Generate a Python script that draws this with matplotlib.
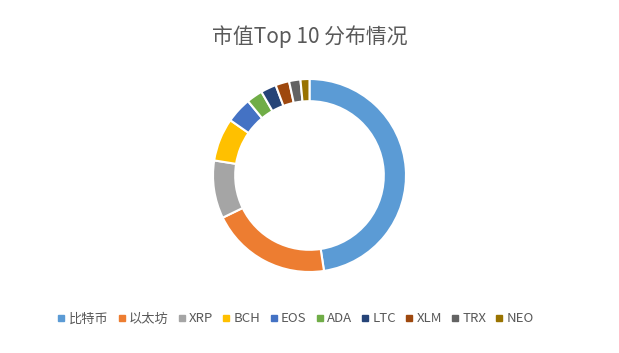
import matplotlib
matplotlib.use("Agg")
import matplotlib.pyplot as plt
from matplotlib.lines import Line2D

plt.rcParams['font.family'] = ['Noto Sans CJK SC', 'DejaVu Sans']

labels = ['比特币', '以太坊', 'XRP', 'BCH', 'EOS', 'ADA', 'LTC', 'XLM', 'TRX', 'NEO']
values = [47.6, 20.2, 9.7, 7.2, 4.3, 2.7, 2.6, 2.3, 1.9, 1.5]
colors = ['#5B9BD5', '#ED7D31', '#A5A5A5', '#FFC000', '#4472C4',
          '#70AD47', '#264478', '#9E480E', '#636363', '#997300']
title = '市值Top 10 分布情况'

W, H = 619, 353
fig = plt.figure(figsize=(W / 100, H / 100), dpi=100)
fig.patch.set_facecolor('white')

cx, cy, r = 309.5, 175.5, 96.5
ax = fig.add_axes([(cx - r) / W, (H - cy - r) / H, 2 * r / W, 2 * r / H])
ax.pie(values, colors=colors, startangle=90, counterclock=False, radius=1.0,
       wedgeprops=dict(width=0.23, edgecolor='white', linewidth=1.5))
ax.set_xlim(-1, 1)
ax.set_ylim(-1, 1)
ax.set_aspect('equal')
ax.axis('off')

fig.text(310 / W, 1 - 37 / H, title, ha='center', va='center',
         fontsize=15, color='#595959')

handles = [Line2D([0], [0], marker='s', linestyle='none', markersize=4.5,
                  markerfacecolor=c, markeredgecolor=c) for c in colors]
leg = fig.legend(handles, labels, loc='center', ncol=10,
                 bbox_to_anchor=(296 / W, 34 / H), frameon=False,
                 fontsize=9.5, handlelength=0.5, handletextpad=0.3,
                 columnspacing=0.75, labelcolor='#595959')

fig.savefig('out.png', dpi=100, facecolor='white')
